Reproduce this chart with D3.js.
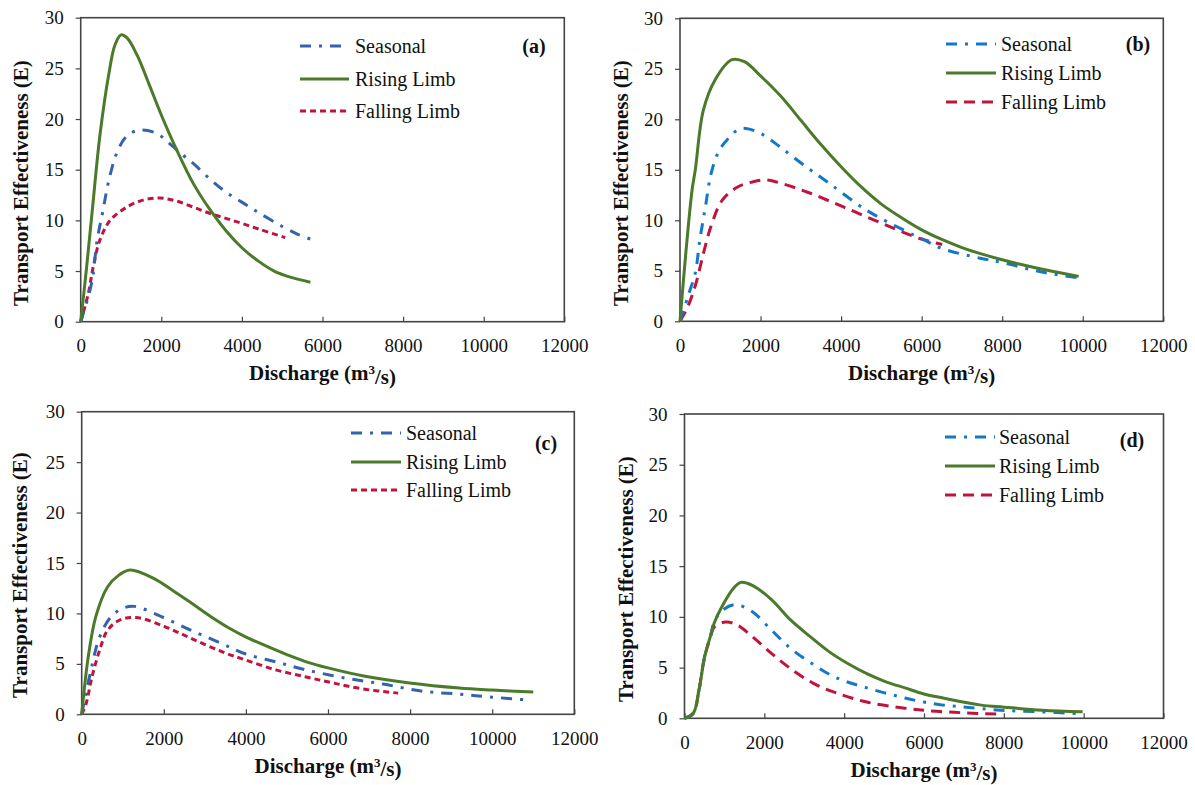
<!DOCTYPE html>
<html>
<head>
<meta charset="utf-8">
<script src="https://cdn.jsdelivr.net/npm/d3@7"></script>
<style>
  html, body { margin: 0; padding: 0; background: #fff; }
</style>
</head>
<body>
<script>
const SERIF = '"Liberation Serif"';

// Axis ticks shared by all four panels
const dischargeTicks = [0, 2000, 4000, 6000, 8000, 10000, 12000];
const effectTicks = [0, 5, 10, 15, 20, 25, 30];
const seriesNames = ["Seasonal", "Rising Limb", "Falling Limb"];
const panelTags = ["(a)", "(b)", "(c)", "(d)"];

// [discharge (m3/s), transport effectiveness]
const seasonalA = [[0,0],[270,3.8],[410,8.1],[550,10.9],[690,13.8],[910,16.8],[1140,18.3],[1450,18.9],[1880,18.6],[2200,17.6],[2550,16.4],[2800,15.6],[3200,14.1],[3600,12.8],[4000,11.8],[4400,10.8],[5000,9.4],[5400,8.6],[5740,8.1]];
const risingA = [[0,0],[150,5.5],[300,11.5],[480,18.5],[700,24.5],[850,27.3],[1000,28.3],[1150,28.0],[1400,26.3],[1700,23.4],[2000,20.4],[2400,16.8],[2800,13.6],[3200,11.1],[3600,9.0],[4000,7.3],[4400,6.0],[4800,5.0],[5200,4.4],[5700,3.9]];
const fallingA = [[0,0],[190,2.8],[310,5.4],[480,8.1],[730,10.0],[1140,11.3],[1550,12.0],[1970,12.2],[2380,11.9],[2800,11.3],[3200,10.7],[3600,10.2],[4000,9.7],[4450,9.1],[5076,8.3]];

const seasonalB = [[0,0],[200,2.5],[380,4.8],[490,8],[630,11.3],[770,14.6],[960,16.8],[1200,18.1],[1520,19.1],[2000,18.6],[2470,17.3],[3030,15.6],[3690,13.7],[4630,11.0],[5570,9.0],[6040,8.1],[6510,7.2],[7450,6.25],[8020,5.8],[8960,4.9],[9900,4.3]];
const risingB = [[0,0],[150,7],[300,13],[380,15],[580,20.9],[870,23.9],[1290,25.9],[1600,25.7],[2000,24.3],[2500,22.3],[3000,19.9],[3500,17.5],[4000,15.3],[4500,13.3],[5000,11.6],[5500,10.25],[6000,9.05],[6500,8.1],[7000,7.3],[7500,6.65],[8000,6.1],[8500,5.6],[9000,5.15],[9500,4.75],[9900,4.45]];
const fallingB = [[0,0],[200,1.5],[400,3.8],[580,6.7],[770,9.4],[1050,12.0],[1430,13.3],[1800,13.8],[2140,14.0],[2560,13.6],[3220,12.7],[4070,11.3],[5010,9.7],[5950,8.2],[6510,7.6]];

const seasonalC = [[0,0],[205,4.0],[440,7.7],[720,9.7],[1000,10.5],[1280,10.7],[1930,9.7],[2680,8.3],[3420,7.0],[3980,6.0],[4730,5.2],[5470,4.4],[6410,3.6],[7340,3.0],[8270,2.3],[9200,2.0],[10000,1.7],[10930,1.4]];
const risingC = [[0,0],[160,5.7],[345,9.7],[625,12.6],[905,13.8],[1180,14.3],[1740,13.5],[2210,12.3],[2680,11.0],[3140,9.7],[3610,8.5],[3980,7.7],[4540,6.7],[5010,5.9],[5470,5.2],[6000,4.6],[6870,3.8],[7990,3.1],[9200,2.6],[10000,2.4],[11000,2.2]];
const fallingC = [[0,0],[110,1.1],[250,3.7],[440,6.4],[625,8.3],[905,9.3],[1320,9.6],[2020,8.7],[2680,7.5],[3420,6.2],[3980,5.4],[4730,4.4],[5470,3.7],[6130,3.1],[6870,2.5],[7710,2.1]];

const seasonalD = [[0,0],[220,0.5],[363,2.8],[506,6.1],[650,8.1],[745,9.5],[936,10.6],[1271,11.2],[1700,10.5],[2178,8.7],[2656,6.9],[3229,5.3],[3802,4.0],[4567,3.0],[5522,2.0],[6000,1.6],[6478,1.3],[7051,1.1],[7910,0.8],[8866,0.65],[9973,0.45]];
const risingD = [[0,0],[220,0.5],[363,2.8],[506,6.1],[650,8.1],[745,9.4],[936,11.0],[1223,12.8],[1414,13.4],[1700,13.1],[2178,11.7],[2656,9.7],[3134,8.1],[3611,6.6],[4089,5.4],[4567,4.4],[5045,3.6],[5522,3.0],[6000,2.4],[6478,2.0],[7433,1.3],[8006,1.1],[8961,0.8],[9973,0.65]];
const fallingD = [[0,0],[220,0.5],[363,2.8],[506,6.1],[650,8.0],[745,9.0],[1032,9.5],[1318,9.2],[1700,8.05],[2178,6.4],[2656,4.9],[3229,3.45],[3802,2.5],[4567,1.6],[5522,1.0],[6096,0.75],[6955,0.55],[7910,0.4]];

// Layout of each panel: plot box, legend placement, y-title placement
const layout = [
  { box: [80.7, 17.7, 564.3, 321.7], leg: { x1: 300, x2: 349, tx: 355, ys: [46, 79, 111] }, tag: [534, 46], yt: [21, 183],
    styles: [{ c: "#3463AE", d: "11,8,3,8" }, { c: "#4A7A2A", d: null }, { c: "#C0143C", d: "6,4" }] },
  { box: [680, 18.3, 1163.3, 321.3], leg: { x1: 946, x2: 996, tx: 1001, ys: [44, 73, 102] }, tag: [1138, 44], yt: [621, 183],
    styles: [{ c: "#1478C8", d: "11,8,3,8" }, { c: "#4A7A2A", d: null }, { c: "#C0143C", d: "11,7" }] },
  { box: [81.7, 411.7, 574.3, 714.3], leg: { x1: 351, x2: 401, tx: 406, ys: [433, 462, 490] }, tag: [546, 443], yt: [20, 575],
    styles: [{ c: "#3463AE", d: "11,8,3,8" }, { c: "#4A7A2A", d: null }, { c: "#C0143C", d: "6,4" }] },
  { box: [684.5, 414, 1163.5, 718.3], leg: { x1: 945, x2: 995, tx: 999, ys: [437, 466, 495] }, tag: [1132, 440], yt: [626, 579],
    styles: [{ c: "#1478C8", d: "11,8,3,8" }, { c: "#4A7A2A", d: null }, { c: "#C0143C", d: "11,7" }] }
];

const panelSeries = [
  [seasonalA, risingA, fallingA],
  [seasonalB, risingB, fallingB],
  [seasonalC, risingC, fallingC],
  [seasonalD, risingD, fallingD]
];

const svg = d3.select("body").append("svg")
  .attr("width", 1195).attr("height", 785);

// text helper: serif face, near-black ink
function label(sel, size, bold) {
  return sel.style("font-family", SERIF).style("font-size", size + "px")
    .style("font-weight", bold ? "bold" : "normal").style("fill", "#111");
}

layout.forEach((L, i) => {
  const [x0, y0, x1, y1] = L.box;
  const x = d3.scaleLinear().domain([0, 12000]).range([x0, x1]);
  const y = d3.scaleLinear().domain([0, 30]).range([y1, y0]);
  const g = svg.append("g");

  // x axis: ticks point into the plot
  const xa = g.append("g").attr("transform", `translate(0,${y1})`)
    .call(d3.axisBottom(x).tickValues(dischargeTicks).tickFormat(d3.format("d"))
      .tickSizeInner(-5).tickSizeOuter(0).tickPadding(17));
  xa.attr("font-family", null);
  xa.select(".domain").remove();
  xa.selectAll("line").attr("stroke", "#444").attr("stroke-width", 1.2);
  label(xa.selectAll("text"), 19, false);

  // y axis
  const ya = g.append("g").attr("transform", `translate(${x0},0)`)
    .call(d3.axisLeft(y).tickValues(effectTicks).tickSizeInner(5).tickSizeOuter(0).tickPadding(12));
  ya.attr("font-family", null);
  ya.select(".domain").remove();
  ya.selectAll("line").attr("stroke", "#444").attr("stroke-width", 1.2);
  label(ya.selectAll("text"), 19, false);

  // plot frame
  g.append("rect").attr("x", x0).attr("y", y0).attr("width", x1 - x0).attr("height", y1 - y0)
    .attr("fill", "none").attr("stroke", "#444").attr("stroke-width", 1.6);

  // curves
  const line = d3.line().x(d => x(d[0])).y(d => y(d[1])).curve(d3.curveCatmullRom.alpha(0.5));
  [2, 0, 1].forEach(k => {
    const st = L.styles[k];
    g.append("path").datum(panelSeries[i][k])
      .attr("d", line).attr("fill", "none")
      .attr("stroke", st.c).attr("stroke-width", 3)
      .attr("stroke-dasharray", st.d);
  });

  // legend
  seriesNames.forEach((name, k) => {
    const st = L.styles[k];
    const ly = L.leg.ys[k];
    g.append("line").attr("x1", L.leg.x1).attr("x2", L.leg.x2).attr("y1", ly).attr("y2", ly)
      .attr("stroke", st.c).attr("stroke-width", 3).attr("stroke-dasharray", st.d);
    label(g.append("text").attr("x", L.leg.tx).attr("y", ly).attr("dy", "0.35em"), 20, false).text(name);
  });

  // panel tag
  label(g.append("text").attr("x", L.tag[0]).attr("y", L.tag[1]).attr("dy", "0.35em")
    .attr("text-anchor", "middle"), 20, true).text(panelTags[i]);

  // axis titles
  const xt = label(g.append("text").attr("x", (x0 + x1) / 2).attr("y", y1 + 51).attr("dy", "0.35em")
    .attr("text-anchor", "middle"), 21, true);
  xt.append("tspan").text("Discharge (m");
  xt.append("tspan").attr("dy", "-0.45em").style("font-size", "13px").text("3");
  xt.append("tspan").attr("dy", "0.45em").text("/s)");

  label(g.append("text").attr("transform", `translate(${L.yt[0]},${L.yt[1]}) rotate(-90)`)
    .attr("dy", "0.35em").attr("text-anchor", "middle"), 21, true)
    .text("Transport Effectiveness (E)");
});
</script>
</body>
</html>
